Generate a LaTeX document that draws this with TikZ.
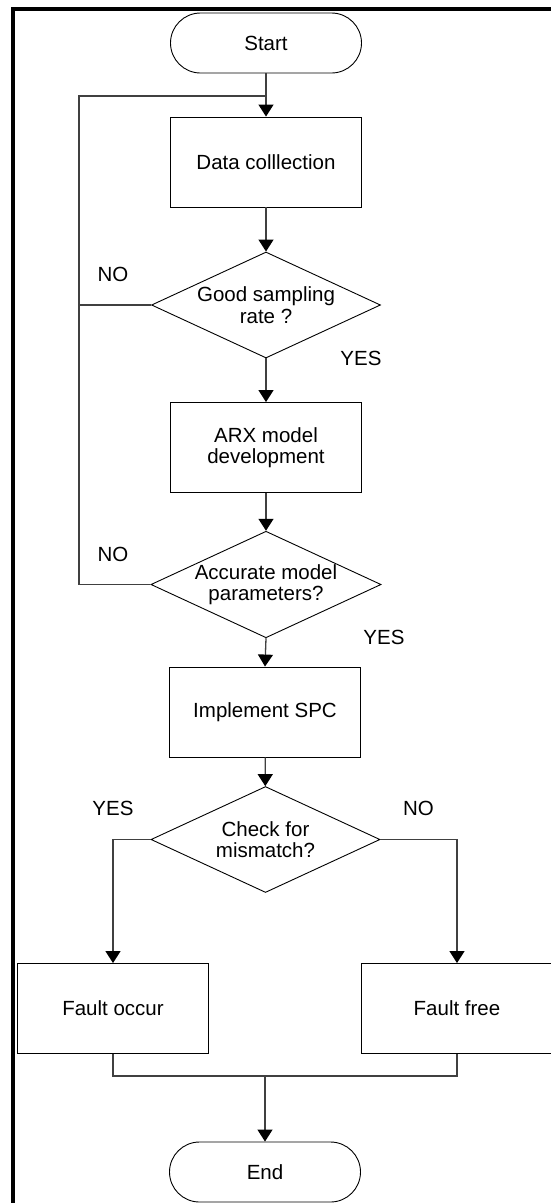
\documentclass[tikz,border=0pt]{standalone}
\usepackage{fontspec}
\setmainfont{Liberation Sans}
\usetikzlibrary{arrows.meta,shapes.geometric}

\begin{document}
\begin{tikzpicture}[x=1pt,y=-1pt,font=\fontsize{20.5}{21.5}\selectfont,
  tip/.style={-{Triangle[length=12pt,width=15pt,black]}},
  term/.style={draw,line width=0.9pt,rounded corners=30pt,minimum width=191pt,minimum height=60pt,inner sep=0pt},
  proc/.style={draw,line width=0.9pt,minimum width=191pt,minimum height=90pt,inner sep=0pt,align=center},
  decide/.style={draw,line width=0.9pt,diamond,aspect=2.16,minimum width=229pt,minimum height=106pt,inner sep=0pt,align=center},
  conn/.style={line width=1.3pt,black!75},
  answer/.style={inner sep=0pt}]
  \useasboundingbox (0,0) rectangle (550,1203);
  % frame (only top and left show)
  \draw[line width=4pt] (12.6,1215) -- (12.6,9) -- (560,9);

  \node[term] (start) at (266,43) {Start};
  \node[proc] (data) at (266,162) {Data colllection};
  \node[decide] (rate) at (266,305) {Good sampling\\rate ?};
  \node[proc] (arx) at (266,447.5) {ARX model\\development};
  \node[decide] (param) at (266,584.5) {Accurate model\\parameters?};
  \node[proc] (spc) at (265,712) {Implement SPC};
  \node[decide] (check) at (265.5,839.5) {Check for\\mismatch?};
  \node[proc] (occur) at (113,1008.5) {Fault occur};
  \node[proc] (free) at (457,1008.5) {Fault free};
  \node[term] (end) at (265,1172) {End};

  \node[answer] (no1) at (113,274) {NO};
  \node[answer] (yes1) at (361,358) {YES};
  \node[answer] (no2) at (113,554) {NO};
  \node[answer] (yes2) at (384,637) {YES};
  \node[answer] (yes3) at (113,808) {YES};
  \node[answer] (no3) at (418.5,808) {NO};

  \coordinate (loop) at (79,96);
  \coordinate (merge) at (265,1076);

  \draw[conn,tip] (start) -- (data);
  \draw[conn] (rate.west) -| (loop) -- (loop -| start.south);
  \draw[conn] (param.west) -| (loop);
  \draw[conn,tip] (data) -- (rate);
  \draw[conn,tip] (rate) -- (arx);
  \draw[conn,tip] (arx) -- (param);
  \draw[conn,tip] (param.south) -- (spc.north);
  \draw[conn,tip] (spc) -- (check);
  \draw[conn,tip] (check.west) -| (occur.north);
  \draw[conn,tip] (check.east) -| (free.north);
  \draw[conn] (occur.south) |- (merge) -| (free.south);
  \draw[conn,tip] (merge) -- (end);
\end{tikzpicture}
\end{document}
